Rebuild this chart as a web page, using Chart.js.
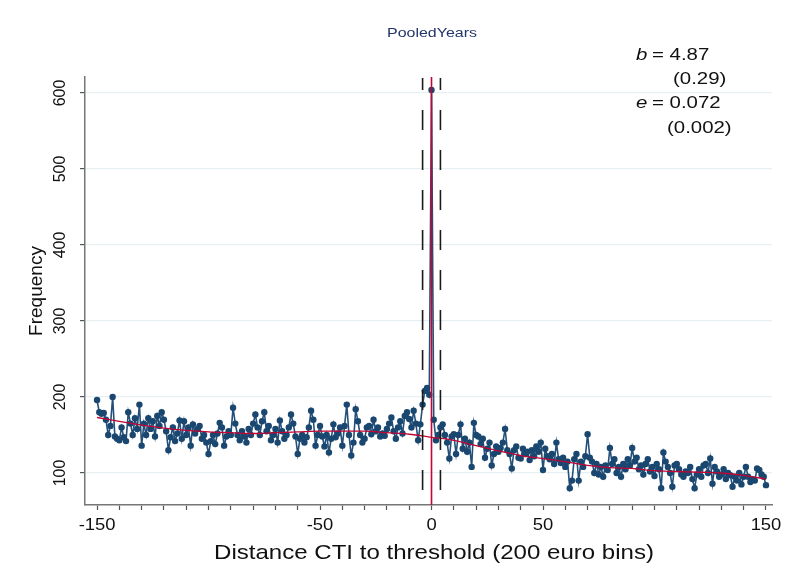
<!DOCTYPE html>
<html>
<head>
<meta charset="utf-8">
<script src="https://cdn.jsdelivr.net/npm/chart.js@4.4.1/dist/chart.umd.min.js"></script>
<style>
  html, body { margin: 0; padding: 0; background: #fff; }
  canvas { display: block; }
</style>
</head>
<body>
<canvas id="bunchChart" width="787" height="575"></canvas>
<script>
// bins: distance of CTI to threshold, in 200 euro bins
const binX = [];
for (let b = -150; b <= 150; b++) binX.push(b);

// observed frequency per bin
const frequency = [
  196, 180, 178, 179, 170, 150, 162, 200, 148, 145,   // -150..-141
  143, 160, 147, 142, 180, 165, 150, 172, 158, 190,   // -140..-131
  136, 165, 150, 172, 158, 168, 148, 175, 162, 180,   // -130..-121
  170, 155, 130, 147, 160, 142, 152, 169, 145, 168,   // -120..-111
  150, 160, 136, 164, 152, 158, 162, 145, 150, 140,   // -110..-101
  125, 142, 150, 138, 152, 166, 160, 136, 148, 155,   // -100..-91
  150, 186, 165, 150, 143, 155, 148, 140, 158, 150,   // -90..-81
  165, 177, 160, 150, 168, 180, 155, 162, 143, 150,   // -80..-71
  158, 140, 169, 155, 145, 150, 160, 177, 165, 148,   // -70..-61
  125, 145, 150, 140, 147, 160, 182, 170, 136, 150,   // -60..-51
  162, 148, 135, 150, 127, 145, 164, 147, 152, 160,   // -50..-41
  136, 162, 190, 150, 123, 140, 184, 168, 150, 140,   // -40..-31
  145, 160, 162, 151, 170, 155, 160, 148, 152, 149,   // -30..-21
  158, 165, 173, 155, 145, 160, 168, 152, 175, 180,   // -20..-11
  171, 160, 182, 165, 143, 164, 190, 208, 212, 203,   // -10..-1
  604,                                                // 0
  170, 143, 150, 160, 164, 150, 140, 119, 148, 151,   // 1..10
  125, 150, 164, 132, 145, 128, 140, 108, 166, 150,   // 11..20
  148, 138, 145, 120, 132, 140, 110, 125, 135, 128,   // 21..30
  133, 140, 158, 130, 125, 106, 130, 135, 120, 119,   // 31..40
  132, 125, 128, 117, 130, 122, 135, 128, 140, 104,   // 41..50
  132, 122, 118, 125, 112, 140, 118, 113, 120, 108,   // 51..60
  115, 80, 90, 118, 125, 90, 115, 108, 122, 151,      // 61..70
  120, 115, 100, 112, 98, 108, 95, 110, 104, 133,     // 71..80
  112, 118, 100, 108, 95, 112, 105, 118, 110, 133,    // 81..90
  115, 120, 105, 110, 98, 112, 118, 102, 108, 96,     // 91..100
  112, 105, 80, 127, 115, 108, 100, 82, 110, 112,     // 101..110
  105, 98, 95, 102, 100, 108, 92, 80, 98, 105,        // 111..120
  95, 110, 112, 100, 119, 86, 108, 102, 95, 98,       // 121..130
  105, 92, 100, 97, 82, 95, 90, 100, 85, 95,          // 131..140
  108, 95, 88, 92, 90, 106, 104, 98, 95, 84           // 141..150
];

// counterfactual polynomial fit (red curve), read at every 10 bins
const fitX = [-150, -140, -130, -120, -110, -100, -90, -80, -70, -60, -50, -40, -30, -20, -10,
              0, 10, 20, 30, 40, 50, 60, 70, 80, 90, 100, 110, 120, 130, 140, 150];
const fitY = [173, 168, 163, 159, 156, 154, 153, 152, 153, 154, 155, 155, 155, 153, 151,
              147, 143, 136, 129, 123, 119, 115, 110, 107, 106, 103, 102, 101, 100, 97, 92];

// threshold and excluded window
const thresholdX = 0;
const windowX = [-4, 4];

// axis ticks
const xTickValues = [];
for (let t = -150; t <= 150; t += 10) xTickValues.push(t);
const xLabelValues = [-150, -50, 0, 50, 150];
const yTickValues = [100, 200, 300, 400, 500, 600];

const titleText = 'PooledYears';
const xTitle = 'Distance CTI to threshold (200 euro bins)';
const yTitle = 'Frequency';
const estimates = [
  { sym: 'b', txt: '= 4.87' },
  { sym: null, txt: '(0.29)' },
  { sym: 'e', txt: '= 0.072' },
  { sym: null, txt: '(0.002)' }
];

const NAVY = '#1a476f';
const RED = '#c10534';
const FONT = '"Liberation Sans", Arial, sans-serif';

function stretchText(ctx, text, x, y, sx, align) {
  ctx.save();
  ctx.translate(x, y);
  ctx.scale(sx, 1);
  ctx.textAlign = align || 'left';
  ctx.fillText(text, 0, 0);
  ctx.restore();
}

const overlay = {
  id: 'overlay',
  afterDatasetsDraw(chart) {
    const ctx = chart.ctx;
    const xs = chart.scales.x;
    const area = chart.chartArea;
    ctx.save();
    // dashed window lines
    ctx.strokeStyle = '#1b1b1b';
    ctx.lineWidth = 1.6;
    ctx.setLineDash([20, 20]);
    ctx.lineDashOffset = 8;
    windowX.forEach(v => {
      const px = xs.getPixelForValue(v);
      ctx.beginPath();
      ctx.moveTo(px, area.top + 1);
      ctx.lineTo(px, area.bottom);
      ctx.stroke();
    });
    ctx.setLineDash([]);
    // threshold line
    const p0 = xs.getPixelForValue(thresholdX);
    ctx.strokeStyle = RED;
    ctx.lineWidth = 1.6;
    ctx.beginPath();
    ctx.moveTo(p0, area.top);
    ctx.lineTo(p0, area.bottom);
    ctx.stroke();
    ctx.restore();
  },
  afterDraw(chart) {
    const ctx = chart.ctx;
    const xs = chart.scales.x;
    const ys = chart.scales.y;
    ctx.save();
    ctx.fillStyle = '#111';
    ctx.textBaseline = 'alphabetic';

    // x tick labels
    ctx.font = '16px ' + FONT;
    xLabelValues.forEach(v => {
      stretchText(ctx, String(v), xs.getPixelForValue(v), 530, 1.15, 'center');
    });
    // x title
    ctx.font = '21px ' + FONT;
    const w = ctx.measureText(xTitle).width;
    stretchText(ctx, xTitle, 434, 559, 440 / w, 'center');

    // y tick labels, rotated
    ctx.font = '16px ' + FONT;
    ctx.textBaseline = 'middle';
    yTickValues.forEach(v => {
      ctx.save();
      ctx.translate(61, ys.getPixelForValue(v));
      ctx.rotate(-Math.PI / 2);
      ctx.textAlign = 'center';
      ctx.fillText(String(v), 0, 0);
      ctx.restore();
    });
    // y title
    ctx.font = '19px ' + FONT;
    ctx.save();
    ctx.translate(37, 291);
    ctx.rotate(-Math.PI / 2);
    ctx.textAlign = 'center';
    ctx.fillText(yTitle, 0, 0);
    ctx.restore();

    // title
    ctx.textBaseline = 'alphabetic';
    ctx.fillStyle = '#23336b';
    ctx.font = '12px ' + FONT;
    const tw = ctx.measureText(titleText).width;
    stretchText(ctx, titleText, 432, 37, 90 / tw, 'center');

    // estimates box
    ctx.fillStyle = '#111';
    const base = [60, 84, 108, 133];
    const numX = [652, 673, 652, 667];
    estimates.forEach((e, i) => {
      if (e.sym) {
        ctx.font = 'italic 17px ' + FONT;
        stretchText(ctx, e.sym, 636, base[i], 1.2, 'left');
      }
      ctx.font = '17px ' + FONT;
      stretchText(ctx, e.txt, numX[i], base[i], 1.2, 'left');
    });
    ctx.restore();
  }
};

const ctx = document.getElementById('bunchChart').getContext('2d');
const chart = new Chart(ctx, {
  type: 'scatter',
  data: {
    datasets: [
      {
        label: 'Counterfactual',
        data: fitX.map((x, i) => ({ x: x, y: fitY[i] })),
        showLine: true,
        borderColor: RED,
        borderWidth: 1.3,
        pointRadius: 0,
        cubicInterpolationMode: 'monotone'
      },
      {
        label: 'Observed',
        data: binX.map((x, i) => ({ x: x, y: frequency[i] })),
        showLine: true,
        borderColor: '#24507a',
        backgroundColor: NAVY,
        borderWidth: 1.6,
        pointRadius: 3.2,
        pointBorderWidth: 0,
        pointBackgroundColor: NAVY
      }
    ]
  },
  options: {
    responsive: false,
    animation: false,
    events: [],
    layout: { padding: { top: 77, right: 15, left: 0, bottom: 0 } },
    plugins: {
      legend: { display: false },
      tooltip: { enabled: false }
    },
    scales: {
      x: {
        type: 'linear',
        min: -155.4,
        max: 152.7,
        afterBuildTicks: s => { s.ticks = xTickValues.map(v => ({ value: v })); },
        afterFit: s => { s.height = 70; },
        ticks: { display: false },
        grid: { drawOnChartArea: false, drawTicks: true, tickLength: 5, tickColor: '#555', tickWidth: 1.2 },
        border: { display: true, color: '#777', width: 1.5 }
      },
      y: {
        type: 'linear',
        min: 57.9,
        max: 621,
        afterBuildTicks: s => { s.ticks = yTickValues.map(v => ({ value: v })); },
        afterFit: s => { s.width = 85; },
        ticks: { display: false },
        grid: { color: '#e6eff1', lineWidth: 1.2, drawTicks: true, tickLength: 5, tickColor: '#555', tickWidth: 1.2 },
        border: { display: true, color: '#777', width: 1.5 }
      }
    }
  },
  plugins: [overlay]
});
</script>
</body>
</html>
